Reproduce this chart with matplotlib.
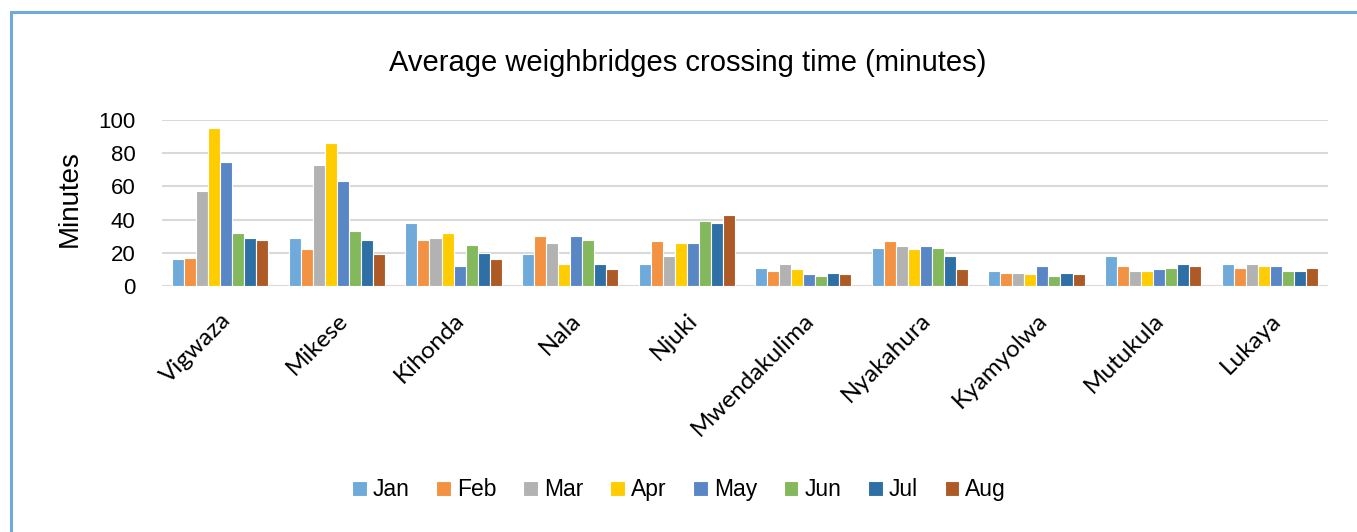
import numpy as np
import matplotlib.pyplot as plt
from matplotlib.patches import Rectangle

plt.rcParams['font.family'] = ['Liberation Sans', 'DejaVu Sans']

# Данные
stations = ['Vigwaza', 'Mikese', 'Kihonda', 'Nala', 'Njuki', 'Mwendakulima',
            'Nyakahura', 'Kyamyolwa', 'Mutukula', 'Lukaya']
months = ['Jan', 'Feb', 'Mar', 'Apr', 'May', 'Jun', 'Jul', 'Aug']

jan = [16, 29, 38, 19, 13, 11, 23, 9, 18, 13]
feb = [17, 22, 28, 30, 27, 9, 27, 8, 12, 11]
mar = [57, 73, 29, 26, 18, 13, 24, 8, 9, 13]
apr = [95, 86, 32, 13, 26, 10, 22, 7, 9, 12]
may = [75, 63, 12, 30, 26, 7, 24, 12, 10, 12]
jun = [32, 33, 25, 28, 39, 6, 23, 6, 11, 9]
jul = [29, 28, 20, 13, 38, 8, 18, 8, 13, 9]
aug = [28, 19, 16, 10, 43, 7, 10, 7, 12, 11]

series = [jan, feb, mar, apr, may, jun, jul, aug]
colors = ['#6FAADB', '#F39242', '#B2B2B2', '#FFCC00',
          '#5987C6', '#83B85C', '#2E70A5', '#AD5A27']

fig = plt.figure(figsize=(13.57, 5.32), dpi=100)
ax = fig.add_axes([0.1194, 0.4624, 0.8592, 0.312])

x = np.arange(len(stations))
w = 0.103
for i, (vals, c, m) in enumerate(zip(series, colors, months)):
    ax.bar(x + (i - 3.5) * w, vals, w, color=c, label=m,
           edgecolor='white', linewidth=0.8, zorder=3)

ax.set_xlim(-0.5, len(stations) - 0.5)
ax.set_ylim(0, 100)
ax.set_yticks([0, 20, 40, 60, 80, 100])
ax.tick_params(axis='y', labelsize=16, length=0, pad=19)
ax.tick_params(axis='x', length=0, pad=17)
ax.set_xticks(x)
ax.set_xticklabels(stations, rotation=45, ha='right', rotation_mode='anchor',
                   fontsize=17.5, family=['Lato', 'DejaVu Sans'])
ax.grid(axis='y', color='#D9D9D9', linewidth=1.5, zorder=0)
for s in ax.spines.values():
    s.set_visible(False)
ax.set_ylabel('Minutes', fontsize=20)
ax.yaxis.set_label_coords(-0.0678, 0.524)

fig.text(0.507, 0.8816, 'Average weighbridges crossing time (minutes)',
         ha='center', va='center', fontsize=21)

fig.legend(loc='center', bbox_to_anchor=(0.5004, 0.079), ncol=8,
           frameon=False, fontsize=16.5, handlelength=0.63, handleheight=0.63,
           handletextpad=0.26, columnspacing=1.18)

# Рамка
fig.patches.append(Rectangle((11 / 1357, -0.1), 2, 1.1 - 12 / 532,
                             transform=fig.transFigure, fill=False,
                             edgecolor='#6FAADB', linewidth=2.2))

fig.savefig('out.png', dpi=100)
